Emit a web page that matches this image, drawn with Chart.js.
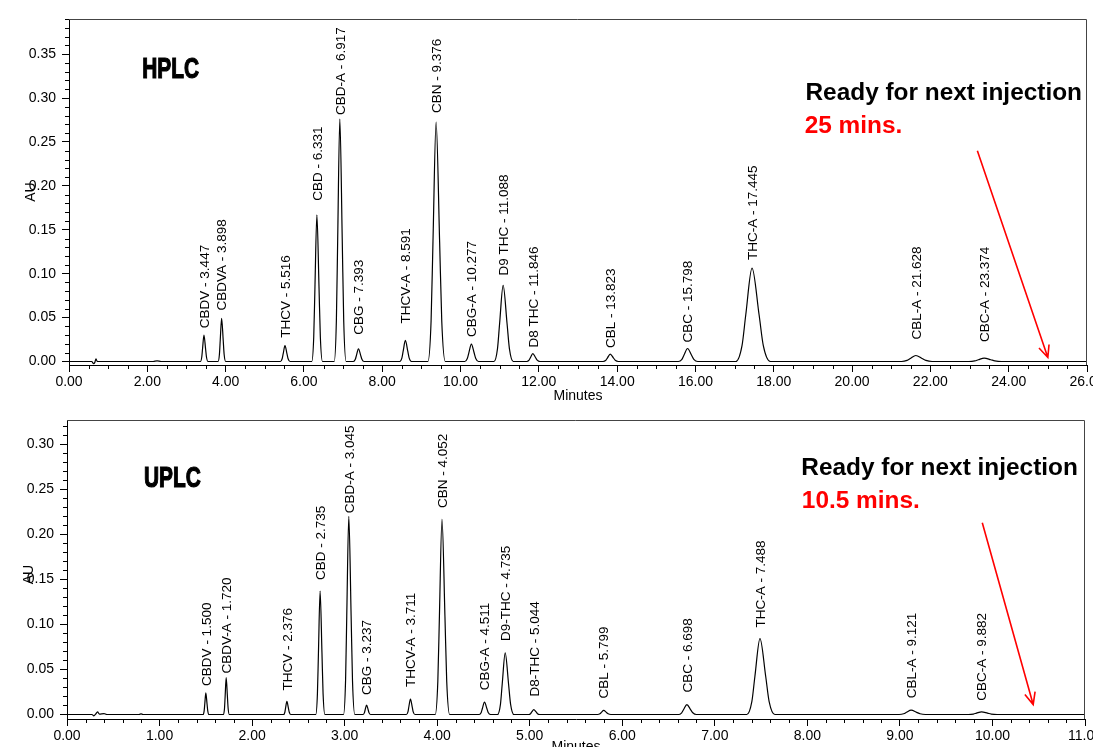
<!DOCTYPE html>
<html><head><meta charset="utf-8">
<script src="https://cdn.jsdelivr.net/npm/chart.js@4.4.1/dist/chart.umd.min.js"></script>
<style>
html,body{margin:0;padding:0;background:#fff;overflow:hidden;width:1093px;height:747px;}
canvas{position:absolute;left:0;}
#c1{top:0;} #c2{top:400px;}
</style></head><body>
<canvas id="c1" width="1110" height="410"></canvas>
<canvas id="c2" width="1110" height="364"></canvas>
<script>
// ---------------- HPLC data ----------------
const hplcMinutes = [0, 0.58, 0.63, 0.66, 0.69, 0.72, 2.15, 2.25, 2.35,
  3.356, 3.391, 3.412, 3.447, 3.487, 3.511, 3.551,
  3.807, 3.842, 3.863, 3.898, 3.938, 3.962, 4.002,
  5.399, 5.444, 5.471, 5.516, 5.566, 5.596, 5.646,
  6.201, 6.251, 6.281, 6.331, 6.386, 6.419, 6.474,
  6.774, 6.829, 6.862, 6.917, 6.979, 7.016, 7.078,
  7.263, 7.313, 7.343, 7.393, 7.448, 7.481, 7.536,
  8.448, 8.503, 8.536, 8.591, 8.651, 8.687, 8.747,
  9.168, 9.248, 9.296, 9.376, 9.466, 9.520, 9.610,
  10.108, 10.173, 10.212, 10.277, 10.347, 10.389, 10.459,
  10.854, 10.944, 10.998, 11.088, 11.188, 11.248, 11.348,
  11.690, 11.750, 11.786, 11.846, 11.916, 11.958, 12.028,
  13.641, 13.711, 13.753, 13.823, 13.903, 13.951, 14.031,
  15.564, 15.654, 15.708, 15.798, 15.898, 15.958, 16.058,
  17.029, 17.189, 17.285, 17.445, 17.625, 17.733, 17.913,
  21.264, 21.404, 21.488, 21.628, 21.788, 21.884, 22.044,
  22.984, 23.134, 23.224, 23.374, 23.544, 23.646, 23.816,
  26];
const hplcAU = [0, 0, -0.0025, -0.001, 0.003, 0, 0, 0.0008, 0,
  0, 0.0051, 0.015, 0.030, 0.015, 0.0051, 0,
  0, 0.0083, 0.0245, 0.049, 0.0245, 0.0083, 0,
  0, 0.0031, 0.009, 0.018, 0.009, 0.0031, 0,
  0, 0.0284, 0.0835, 0.167, 0.0835, 0.0284, 0,
  0, 0.0469, 0.138, 0.276, 0.138, 0.0469, 0,
  0, 0.0025, 0.0073, 0.0145, 0.0073, 0.0025, 0,
  0, 0.0041, 0.012, 0.024, 0.012, 0.0041, 0,
  0, 0.0463, 0.1363, 0.2726, 0.1363, 0.0463, 0,
  0, 0.0034, 0.0099, 0.0198, 0.0099, 0.0034, 0,
  0, 0.0147, 0.0433, 0.0866, 0.0433, 0.0147, 0,
  0, 0.0015, 0.0045, 0.009, 0.0045, 0.0015, 0,
  0, 0.0014, 0.0042, 0.0084, 0.0042, 0.0014, 0,
  0, 0.0025, 0.0074, 0.0148, 0.0074, 0.0025, 0,
  0, 0.0181, 0.0532, 0.1064, 0.0532, 0.0181, 0,
  0, 0.0012, 0.0034, 0.0068, 0.0034, 0.0012, 0,
  0, 0.0007, 0.002, 0.0039, 0.002, 0.0007, 0,
  0];
const hplcPeakNames = ['CBDV', 'CBDVA', 'THCV', 'CBD', 'CBD-A', 'CBG', 'THCV-A', 'CBN', 'CBG-A',
  'D9 THC', 'D8 THC', 'CBL', 'CBC', 'THC-A', 'CBL-A', 'CBC-A'];
const hplcPeakTimes = [3.447, 3.898, 5.516, 6.331, 6.917, 7.393, 8.591, 9.376, 10.277,
  11.088, 11.846, 13.823, 15.798, 17.445, 21.628, 23.374];
const hplcPeakAU = [0.030, 0.049, 0.018, 0.167, 0.276, 0.0145, 0.024, 0.2726, 0.0198,
  0.0866, 0.009, 0.0084, 0.0148, 0.1064, 0.0068, 0.0039];
const hplcXTicks = [0, 26, 2, 0.5];          // min, max, major step, minor step
const hplcYTicks = [-0.004, 0.39, 0.05, 0.01];

// ---------------- UPLC data ----------------
const uplcMinutes = [0, 0.27, 0.29, 0.31, 0.33, 0.35, 0.40, 0.43, 0.78, 0.80, 0.82,
  1.471, 1.482, 1.489, 1.500, 1.513, 1.521, 1.534,
  1.691, 1.702, 1.709, 1.720, 1.733, 1.741, 1.754,
  2.340, 2.354, 2.362, 2.376, 2.392, 2.402, 2.418,
  2.688, 2.706, 2.717, 2.735, 2.755, 2.767, 2.787,
  2.988, 3.010, 3.023, 3.045, 3.070, 3.085, 3.110,
  3.198, 3.213, 3.222, 3.237, 3.254, 3.264, 3.281,
  3.667, 3.684, 3.694, 3.711, 3.730, 3.741, 3.760,
  3.979, 4.007, 4.024, 4.052, 4.084, 4.103, 4.135,
  4.454, 4.476, 4.489, 4.511, 4.536, 4.551, 4.576,
  4.652, 4.684, 4.703, 4.735, 4.771, 4.793, 4.829,
  4.987, 5.009, 5.022, 5.044, 5.069, 5.084, 5.109,
  5.734, 5.759, 5.774, 5.799, 5.829, 5.847, 5.877,
  6.607, 6.642, 6.663, 6.698, 6.738, 6.762, 6.802,
  7.345, 7.400, 7.433, 7.488, 7.550, 7.587, 7.649,
  8.991, 9.041, 9.071, 9.121, 9.181, 9.217, 9.277,
  9.739, 9.794, 9.827, 9.882, 9.947, 9.986, 10.051,
  11];
const uplcAU = [0, 0, -0.0015, 0.0005, 0.003, 0.0005, 0.001, 0, 0, 0.0008, 0,
  0, 0.0041, 0.012, 0.024, 0.012, 0.0041, 0,
  0, 0.007, 0.0205, 0.041, 0.0205, 0.007, 0,
  0, 0.0025, 0.0073, 0.0145, 0.0073, 0.0025, 0,
  0, 0.0233, 0.0685, 0.137, 0.0685, 0.0233, 0,
  0, 0.0374, 0.110, 0.220, 0.110, 0.0374, 0,
  0, 0.0018, 0.0053, 0.0105, 0.0053, 0.0018, 0,
  0, 0.0029, 0.0086, 0.0172, 0.0086, 0.0029, 0,
  0, 0.0369, 0.1085, 0.217, 0.1085, 0.0369, 0,
  0, 0.0023, 0.0069, 0.0137, 0.0069, 0.0023, 0,
  0, 0.0116, 0.0342, 0.0684, 0.0342, 0.0116, 0,
  0, 0.0009, 0.0028, 0.0055, 0.0028, 0.0009, 0,
  0, 0.0008, 0.0023, 0.0045, 0.0023, 0.0008, 0,
  0, 0.0019, 0.0055, 0.011, 0.0055, 0.0019, 0,
  0, 0.0143, 0.0422, 0.0843, 0.0422, 0.0143, 0,
  0, 0.0008, 0.0024, 0.0048, 0.0024, 0.0008, 0,
  0, 0.0005, 0.0015, 0.003, 0.0015, 0.0005, 0,
  0];
const uplcPeakNames = ['CBDV', 'CBDV-A', 'THCV', 'CBD', 'CBD-A', 'CBG', 'THCV-A', 'CBN', 'CBG-A',
  'D9-THC', 'D8-THC', 'CBL', 'CBC', 'THC-A', 'CBL-A', 'CBC-A'];
const uplcPeakTimes = [1.500, 1.720, 2.376, 2.735, 3.045, 3.237, 3.711, 4.052, 4.511,
  4.735, 5.044, 5.799, 6.698, 7.488, 9.121, 9.882];
const uplcPeakAU = [0.024, 0.041, 0.0145, 0.137, 0.220, 0.0105, 0.0172, 0.217, 0.0137,
  0.0684, 0.0055, 0.0045, 0.011, 0.0843, 0.0048, 0.003];
const uplcXTicks = [0, 11, 1, 0.2];
const uplcYTicks = [-0.005, 0.327, 0.05, 0.01];

// ---------------- layout / style ----------------
const FONT = "'Liberation Sans', Arial, Helvetica, sans-serif";
const hplcLabelGap = [7, 8, 8, 14, 4, 14, 17, 9, 7, 10, 6, 6, 6, 8, 16, 16];
const uplcLabelGap = [7, 4, 11, 11, 3, 10, 12, 11, 12, 12, 13, 12, 12, 11, 12, 11];

const framePlugin = {
  id: 'frameAndNotes',
  afterDraw(chart, args, o) {
    const {ctx, chartArea: a, scales: {x, y}} = chart;
    ctx.save();
    // frame (top/right)
    ctx.strokeStyle = '#444';
    ctx.lineWidth = 1;
    ctx.beginPath();
    ctx.moveTo(a.left, a.top + 0.5);
    ctx.lineTo(a.right - 0.5, a.top + 0.5);
    ctx.lineTo(a.right - 0.5, a.bottom);
    ctx.stroke();
    // minor ticks
    ctx.strokeStyle = '#000';
    ctx.beginPath();
    const [xmin, xmax, xmaj, xmin2] = o.xTicks;
    const nx = Math.round((xmax - xmin) / xmin2);
    for (let i = 0; i <= nx; i++) {
      const v = xmin + i * xmin2;
      if (Math.abs(v / xmaj - Math.round(v / xmaj)) < 1e-6) continue;
      const px = Math.round(x.getPixelForValue(v)) + 0.5;
      ctx.moveTo(px, a.bottom);
      ctx.lineTo(px, a.bottom + 4);
    }
    const [ymin, ymax, ymaj, ymin2] = o.yTicks;
    const ny = Math.floor(ymax / ymin2 + 1e-6);
    for (let i = 0; i <= ny; i++) {
      const v = i * ymin2;
      if (Math.abs(v / ymaj - Math.round(v / ymaj)) < 1e-6) continue;
      const py = Math.round(y.getPixelForValue(v)) + 0.5;
      ctx.moveTo(a.left - 4, py);
      ctx.lineTo(a.left, py);
    }
    ctx.stroke();
    // peak labels
    ctx.fillStyle = '#000';
    ctx.font = '13.5px ' + FONT;
    ctx.textAlign = 'left';
    ctx.textBaseline = 'middle';
    o.names.forEach((n, i) => {
      const px = x.getPixelForValue(o.times[i]) + 1;
      const py = y.getPixelForValue(o.apex[i]) - o.gaps[i];
      ctx.save();
      ctx.translate(px, py);
      ctx.rotate(-Math.PI / 2);
      ctx.fillText(n + ' - ' + o.times[i].toFixed(3), 0, 0);
      ctx.restore();
    });
    // AU title
    ctx.save();
    ctx.font = '14px ' + FONT;
    ctx.textAlign = 'center';
    ctx.translate(o.auX, (a.top + a.bottom) / 2 + o.auDy);
    ctx.rotate(-Math.PI / 2);
    ctx.fillText('AU', 0, 0);
    ctx.restore();
    // notes
    const n = o.notes;
    ctx.textBaseline = 'alphabetic';
    ctx.textAlign = 'left';
    ctx.save();
    ctx.font = 'bold 29px ' + FONT;
    ctx.translate(x.getPixelForValue(n.tag[1]), y.getPixelForValue(n.tag[2]));
    ctx.scale(0.72, 1);
    ctx.fillStyle = '#000';
    ctx.strokeStyle = '#000';
    ctx.lineWidth = 1.2;
    ctx.fillText(n.tag[0], 0, 0);
    ctx.strokeText(n.tag[0], 0, 0);
    ctx.restore();
    ctx.font = 'bold 24.4px ' + FONT;
    ctx.fillStyle = '#000';
    ctx.fillText('Ready for next injection', x.getPixelForValue(n.ready[0]), y.getPixelForValue(n.ready[1]));
    ctx.fillStyle = '#ff0000';
    ctx.fillText(n.mins[0], x.getPixelForValue(n.mins[1]), y.getPixelForValue(n.mins[2]));
    // arrow
    const x0 = x.getPixelForValue(n.arrow[0]), y0 = y.getPixelForValue(n.arrow[1]);
    const x1 = x.getPixelForValue(n.arrow[2]), y1 = y.getPixelForValue(n.arrow[3]);
    const ang = Math.atan2(y1 - y0, x1 - x0);
    ctx.strokeStyle = '#ff0000';
    ctx.lineWidth = 1.6;
    ctx.beginPath();
    ctx.moveTo(x0, y0); ctx.lineTo(x1, y1);
    ctx.moveTo(x1 - 13 * Math.cos(ang - 0.42), y1 - 13 * Math.sin(ang - 0.42));
    ctx.lineTo(x1, y1);
    ctx.lineTo(x1 - 13 * Math.cos(ang + 0.42), y1 - 13 * Math.sin(ang + 0.42));
    ctx.stroke();
    ctx.restore();
  }
};

function makeChart(id, minutes, au, xT, yT, opt) {
  return new Chart(document.getElementById(id), {
    type: 'line',
    data: {
      datasets: [{
        data: minutes.map((t, i) => ({x: t, y: au[i]})),
        borderColor: '#000',
        borderWidth: 1.2,
        pointRadius: 0,
        fill: false,
        cubicInterpolationMode: 'monotone'
      }]
    },
    options: {
      responsive: false,
      animation: false,
      events: [],
      layout: {padding: {top: opt.padTop, right: opt.padRight, left: 0, bottom: 0}},
      plugins: {
        legend: {display: false},
        tooltip: {enabled: false},
        frameAndNotes: opt.notes
      },
      scales: {
        x: {
          type: 'linear', min: xT[0], max: xT[1],
          ticks: {stepSize: xT[2], includeBounds: false, autoSkip: false, maxRotation: 0,
            padding: 2, color: '#000', font: {size: 14, family: FONT},
            callback: v => v.toFixed(2)},
          grid: {drawOnChartArea: false, tickLength: 7, color: '#000', tickColor: '#000'},
          border: {color: '#000', width: 1},
          title: {display: true, text: 'Minutes', color: '#000', font: {size: 14, family: FONT},
            padding: {top: 0, bottom: opt.titlePad}},
          afterFit: s => { s.height = 45; }
        },
        y: {
          type: 'linear', min: yT[0], max: yT[1],
          ticks: {stepSize: yT[2], includeBounds: false, padding: 6, color: '#000',
            font: {size: 14, family: FONT}, callback: v => v.toFixed(2)},
          grid: {drawOnChartArea: false, tickLength: 7, color: '#000', tickColor: '#000'},
          border: {color: '#000', width: 1},
          afterFit: s => { s.width = opt.leftWidth; }
        }
      }
    },
    plugins: [framePlugin]
  });
}

makeChart('c1', hplcMinutes, hplcAU, hplcXTicks, hplcYTicks, {
  padTop: 19, padRight: 23, leftWidth: 69, titlePad: 5.6,
  notes: {
    xTicks: hplcXTicks, yTicks: hplcYTicks,
    names: hplcPeakNames, times: hplcPeakTimes, apex: hplcPeakAU, gaps: hplcLabelGap,
    auX: 31, auDy: 0,
    notes: {
      tag: ['HPLC', 1.87, 0.3227],
      ready: [18.81, 0.298],
      mins: ['25 mins.', 18.79, 0.26],
      arrow: [23.2, 0.24, 25.0, 0.0046]
    }
  }
});

makeChart('c2', uplcMinutes, uplcAU, uplcXTicks, uplcYTicks, {
  padTop: 20, padRight: 25, leftWidth: 67, titlePad: 8,
  notes: {
    xTicks: uplcXTicks, yTicks: uplcYTicks,
    names: uplcPeakNames, times: uplcPeakTimes, apex: uplcPeakAU, gaps: uplcLabelGap,
    auX: 29, auDy: 5,
    notes: {
      tag: ['UPLC', 0.832, 0.253],
      ready: [7.935, 0.266],
      mins: ['10.5 mins.', 7.94, 0.229],
      arrow: [9.89, 0.213, 10.44, 0.011]
    }
  }
});
</script></body></html>
